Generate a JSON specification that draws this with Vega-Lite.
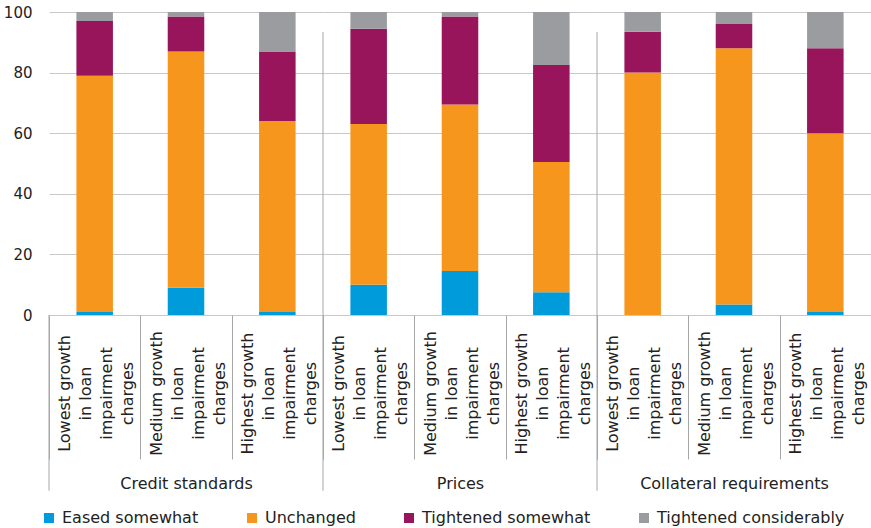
{
  "$schema": "https://vega.github.io/schema/vega-lite/v6.json",
  "padding": {"left": 3, "top": 5, "right": 0, "bottom": 0},
  "spacing": 0,
  "bounds": "flush",
  "config": {
    "view": {"stroke": null},
    "font": "DejaVu Sans",
    "axis": {"gridColor": "#C8C8C8", "gridWidth": 1}
  },
  "datasets": {
    "d": [
      {"group": "Credit standards", "sub": "Lowest growth|in loan|impairment|charges", "resp": "Eased somewhat", "k": 1, "v": 1},
      {"group": "Credit standards", "sub": "Lowest growth|in loan|impairment|charges", "resp": "Unchanged", "k": 2, "v": 78},
      {"group": "Credit standards", "sub": "Lowest growth|in loan|impairment|charges", "resp": "Tightened somewhat", "k": 3, "v": 18},
      {"group": "Credit standards", "sub": "Lowest growth|in loan|impairment|charges", "resp": "Tightened considerably", "k": 4, "v": 3},
      {"group": "Credit standards", "sub": "Medium growth|in loan|impairment|charges", "resp": "Eased somewhat", "k": 1, "v": 9},
      {"group": "Credit standards", "sub": "Medium growth|in loan|impairment|charges", "resp": "Unchanged", "k": 2, "v": 78},
      {"group": "Credit standards", "sub": "Medium growth|in loan|impairment|charges", "resp": "Tightened somewhat", "k": 3, "v": 11.5},
      {"group": "Credit standards", "sub": "Medium growth|in loan|impairment|charges", "resp": "Tightened considerably", "k": 4, "v": 1.5},
      {"group": "Credit standards", "sub": "Highest growth|in loan|impairment|charges", "resp": "Eased somewhat", "k": 1, "v": 1},
      {"group": "Credit standards", "sub": "Highest growth|in loan|impairment|charges", "resp": "Unchanged", "k": 2, "v": 63},
      {"group": "Credit standards", "sub": "Highest growth|in loan|impairment|charges", "resp": "Tightened somewhat", "k": 3, "v": 23},
      {"group": "Credit standards", "sub": "Highest growth|in loan|impairment|charges", "resp": "Tightened considerably", "k": 4, "v": 13},
      {"group": "Prices", "sub": "Lowest growth|in loan|impairment|charges", "resp": "Eased somewhat", "k": 1, "v": 10},
      {"group": "Prices", "sub": "Lowest growth|in loan|impairment|charges", "resp": "Unchanged", "k": 2, "v": 53},
      {"group": "Prices", "sub": "Lowest growth|in loan|impairment|charges", "resp": "Tightened somewhat", "k": 3, "v": 31.5},
      {"group": "Prices", "sub": "Lowest growth|in loan|impairment|charges", "resp": "Tightened considerably", "k": 4, "v": 5.5},
      {"group": "Prices", "sub": "Medium growth|in loan|impairment|charges", "resp": "Eased somewhat", "k": 1, "v": 14.5},
      {"group": "Prices", "sub": "Medium growth|in loan|impairment|charges", "resp": "Unchanged", "k": 2, "v": 55},
      {"group": "Prices", "sub": "Medium growth|in loan|impairment|charges", "resp": "Tightened somewhat", "k": 3, "v": 29},
      {"group": "Prices", "sub": "Medium growth|in loan|impairment|charges", "resp": "Tightened considerably", "k": 4, "v": 1.5},
      {"group": "Prices", "sub": "Highest growth|in loan|impairment|charges", "resp": "Eased somewhat", "k": 1, "v": 7.5},
      {"group": "Prices", "sub": "Highest growth|in loan|impairment|charges", "resp": "Unchanged", "k": 2, "v": 43},
      {"group": "Prices", "sub": "Highest growth|in loan|impairment|charges", "resp": "Tightened somewhat", "k": 3, "v": 32},
      {"group": "Prices", "sub": "Highest growth|in loan|impairment|charges", "resp": "Tightened considerably", "k": 4, "v": 17.5},
      {"group": "Collateral requirements", "sub": "Lowest growth|in loan|impairment|charges", "resp": "Eased somewhat", "k": 1, "v": 0},
      {"group": "Collateral requirements", "sub": "Lowest growth|in loan|impairment|charges", "resp": "Unchanged", "k": 2, "v": 80},
      {"group": "Collateral requirements", "sub": "Lowest growth|in loan|impairment|charges", "resp": "Tightened somewhat", "k": 3, "v": 13.5},
      {"group": "Collateral requirements", "sub": "Lowest growth|in loan|impairment|charges", "resp": "Tightened considerably", "k": 4, "v": 6.5},
      {"group": "Collateral requirements", "sub": "Medium growth|in loan|impairment|charges", "resp": "Eased somewhat", "k": 1, "v": 3.5},
      {"group": "Collateral requirements", "sub": "Medium growth|in loan|impairment|charges", "resp": "Unchanged", "k": 2, "v": 84.5},
      {"group": "Collateral requirements", "sub": "Medium growth|in loan|impairment|charges", "resp": "Tightened somewhat", "k": 3, "v": 8},
      {"group": "Collateral requirements", "sub": "Medium growth|in loan|impairment|charges", "resp": "Tightened considerably", "k": 4, "v": 4},
      {"group": "Collateral requirements", "sub": "Highest growth|in loan|impairment|charges", "resp": "Eased somewhat", "k": 1, "v": 1},
      {"group": "Collateral requirements", "sub": "Highest growth|in loan|impairment|charges", "resp": "Unchanged", "k": 2, "v": 59},
      {"group": "Collateral requirements", "sub": "Highest growth|in loan|impairment|charges", "resp": "Tightened somewhat", "k": 3, "v": 28},
      {"group": "Collateral requirements", "sub": "Highest growth|in loan|impairment|charges", "resp": "Tightened considerably", "k": 4, "v": 12}
    ]
  },
  "resolve": {"scale": {"color": "shared", "x": "independent", "y": "independent"}, "legend": {"color": "shared"}},
  "hconcat": [
    {
      "width": 274, "height": 303,
      "data": {"name": "d"},
      "transform": [{"filter": "datum.group === 'Credit standards'"}],
      "layer": [
        {
          "mark": {"type": "bar", "width": {"band": 0.4}},
          "encoding": {
            "x": {"field": "sub", "type": "nominal",
              "sort": ["Lowest growth|in loan|impairment|charges", "Medium growth|in loan|impairment|charges", "Highest growth|in loan|impairment|charges"],
              "scale": {"paddingInner": 0, "paddingOuter": 0},
              "axis": {"title": "Credit standards", "labelExpr": "split(datum.label, '|')", "labelAngle": -90, "labelAlign": "center", "labelBaseline": "middle", "labelLineHeight": 21, "labelPadding": -66, "labelOffset": -30, "tickBand": "extent", "tickSize": 144, "tickColor": "#A6A6A6", "domain": false, "labelFontSize": 16, "labelColor": "#222", "titleFontSize": 16, "titleFontWeight": "normal", "titleColor": "#222", "titlePadding": 16}},
            "y": {"field": "v", "type": "quantitative", "stack": "zero", "scale": {"domain": [0, 100], "nice": false},
              "axis": {"title": null, "values": [0, 20, 40, 60, 80, 100], "grid": true, "domain": false, "ticks": false, "labelPadding": 17, "labelFontSize": 15, "labelColor": "#222"}},
            "color": {"field": "resp", "type": "nominal",
              "scale": {"domain": ["Eased somewhat", "Unchanged", "Tightened somewhat", "Tightened considerably"], "range": ["#009BDA", "#F7961D", "#98155C", "#9B9C9F"]},
              "legend": {"title": null, "orient": "none", "legendX": -8, "legendY": 498, "direction": "horizontal", "symbolType": "square", "symbolSize": 100, "symbolStrokeWidth": 0, "labelFontSize": 16, "labelColor": "#222", "labelOffset": 5, "labelLimit": 400, "columnPadding": 45}},
            "order": {"field": "k", "type": "quantitative", "sort": "ascending"}
          }
        },
        {
          "transform": [{"filter": "datum.k === 1 && datum.sub === 'Lowest growth|in loan|impairment|charges'"}],
          "mark": {"type": "rule", "color": "#A6A6A6", "strokeWidth": 1},
          "encoding": {
            "x": {"field": "sub", "type": "nominal", "bandPosition": 0,
              "sort": ["Lowest growth|in loan|impairment|charges", "Medium growth|in loan|impairment|charges", "Highest growth|in loan|impairment|charges"]},
            "y": {"datum": 0, "type": "quantitative"},
            "y2": {"datum": -58}
          }
        }
      ]
    },
    {
      "width": 274, "height": 303,
      "data": {"name": "d"},
      "transform": [{"filter": "datum.group === 'Prices'"}],
      "layer": [
        {
          "mark": {"type": "bar", "width": {"band": 0.4}},
          "encoding": {
            "x": {"field": "sub", "type": "nominal",
              "sort": ["Lowest growth|in loan|impairment|charges", "Medium growth|in loan|impairment|charges", "Highest growth|in loan|impairment|charges"],
              "scale": {"paddingInner": 0, "paddingOuter": 0},
              "axis": {"title": "Prices", "labelExpr": "split(datum.label, '|')", "labelAngle": -90, "labelAlign": "center", "labelBaseline": "middle", "labelLineHeight": 21, "labelPadding": -66, "labelOffset": -30, "tickBand": "extent", "tickSize": 144, "tickColor": "#A6A6A6", "domain": false, "labelFontSize": 16, "labelColor": "#222", "titleFontSize": 16, "titleFontWeight": "normal", "titleColor": "#222", "titlePadding": 16}},
            "y": {"field": "v", "type": "quantitative", "stack": "zero", "scale": {"domain": [0, 100], "nice": false},
              "axis": {"title": null, "values": [0, 20, 40, 60, 80, 100], "grid": true, "domain": false, "ticks": false, "labels": false}},
            "color": {"field": "resp", "type": "nominal",
              "scale": {"domain": ["Eased somewhat", "Unchanged", "Tightened somewhat", "Tightened considerably"], "range": ["#009BDA", "#F7961D", "#98155C", "#9B9C9F"]},
              "legend": {"title": null, "orient": "none", "legendX": -8, "legendY": 498, "direction": "horizontal", "symbolType": "square", "symbolSize": 100, "symbolStrokeWidth": 0, "labelFontSize": 16, "labelColor": "#222", "labelOffset": 5, "labelLimit": 400, "columnPadding": 45}},
            "order": {"field": "k", "type": "quantitative", "sort": "ascending"}
          }
        },
        {
          "transform": [{"filter": "datum.k === 1 && datum.sub === 'Lowest growth|in loan|impairment|charges'"}],
          "mark": {"type": "rule", "color": "#A6A6A6", "strokeWidth": 1},
          "encoding": {
            "x": {"field": "sub", "type": "nominal", "bandPosition": 0,
              "sort": ["Lowest growth|in loan|impairment|charges", "Medium growth|in loan|impairment|charges", "Highest growth|in loan|impairment|charges"]},
            "y": {"datum": 93.4, "type": "quantitative"},
            "y2": {"datum": -58}
          }
        }
      ]
    },
    {
      "width": 274, "height": 303,
      "data": {"name": "d"},
      "transform": [{"filter": "datum.group === 'Collateral requirements'"}],
      "layer": [
        {
          "mark": {"type": "bar", "width": {"band": 0.4}},
          "encoding": {
            "x": {"field": "sub", "type": "nominal",
              "sort": ["Lowest growth|in loan|impairment|charges", "Medium growth|in loan|impairment|charges", "Highest growth|in loan|impairment|charges"],
              "scale": {"paddingInner": 0, "paddingOuter": 0},
              "axis": {"title": "Collateral requirements", "labelExpr": "split(datum.label, '|')", "labelAngle": -90, "labelAlign": "center", "labelBaseline": "middle", "labelLineHeight": 21, "labelPadding": -66, "labelOffset": -30, "tickBand": "extent", "tickSize": 144, "tickColor": "#A6A6A6", "domain": false, "labelFontSize": 16, "labelColor": "#222", "titleFontSize": 16, "titleFontWeight": "normal", "titleColor": "#222", "titlePadding": 16}},
            "y": {"field": "v", "type": "quantitative", "stack": "zero", "scale": {"domain": [0, 100], "nice": false},
              "axis": {"title": null, "values": [0, 20, 40, 60, 80, 100], "grid": true, "domain": false, "ticks": false, "labels": false}},
            "color": {"field": "resp", "type": "nominal",
              "scale": {"domain": ["Eased somewhat", "Unchanged", "Tightened somewhat", "Tightened considerably"], "range": ["#009BDA", "#F7961D", "#98155C", "#9B9C9F"]},
              "legend": {"title": null, "orient": "none", "legendX": -8, "legendY": 498, "direction": "horizontal", "symbolType": "square", "symbolSize": 100, "symbolStrokeWidth": 0, "labelFontSize": 16, "labelColor": "#222", "labelOffset": 5, "labelLimit": 400, "columnPadding": 45}},
            "order": {"field": "k", "type": "quantitative", "sort": "ascending"}
          }
        },
        {
          "transform": [{"filter": "datum.k === 1 && datum.sub === 'Lowest growth|in loan|impairment|charges'"}],
          "mark": {"type": "rule", "color": "#A6A6A6", "strokeWidth": 1},
          "encoding": {
            "x": {"field": "sub", "type": "nominal", "bandPosition": 0,
              "sort": ["Lowest growth|in loan|impairment|charges", "Medium growth|in loan|impairment|charges", "Highest growth|in loan|impairment|charges"]},
            "y": {"datum": 93.4, "type": "quantitative"},
            "y2": {"datum": -58}
          }
        }
      ]
    }
  ]
}
